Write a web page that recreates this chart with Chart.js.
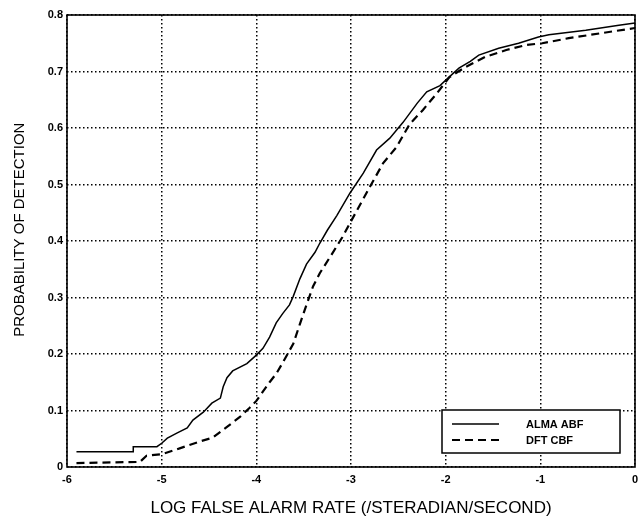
<!DOCTYPE html>
<html>
<head>
<meta charset="utf-8">
<script src="https://cdn.jsdelivr.net/npm/chart.js@4.4.0/dist/chart.umd.min.js"></script>
<style>
  html, body { margin: 0; padding: 0; background: #fff; }
  #wrap { width: 639px; height: 517px; }
</style>
</head>
<body>
<div id="wrap"><canvas id="rocChart" width="639" height="517"></canvas></div>
<script>
// ALMA ABF (solid)
const almaX = [-5.90,-5.30,-5.30,-5.05,-5.00,-4.94,-4.84,-4.73,-4.67,-4.56,-4.47,-4.38,-4.35,-4.31,-4.25,-4.10,-4.00,-3.93,-3.86,-3.79,-3.72,-3.65,-3.61,-3.54,-3.47,-3.38,-3.33,-3.25,-3.15,-3.01,-2.87,-2.73,-2.59,-2.45,-2.30,-2.20,-2.06,-1.99,-1.86,-1.74,-1.65,-1.44,-1.23,-1.02,-0.91,-0.52,-0.17,0.00];
const almaY = [0.027,0.027,0.036,0.036,0.042,0.051,0.060,0.069,0.083,0.097,0.113,0.122,0.142,0.158,0.170,0.183,0.198,0.210,0.230,0.255,0.272,0.287,0.302,0.333,0.359,0.380,0.396,0.419,0.445,0.485,0.520,0.561,0.582,0.610,0.644,0.664,0.675,0.686,0.706,0.718,0.729,0.741,0.750,0.761,0.765,0.773,0.782,0.786];

// DFT CBF (dashed)
const dftX = [-5.90,-5.23,-5.16,-4.99,-4.81,-4.60,-4.46,-4.31,-4.17,-4.07,-4.00,-3.86,-3.79,-3.72,-3.61,-3.54,-3.47,-3.40,-3.33,-3.22,-3.09,-3.01,-2.80,-2.66,-2.52,-2.38,-2.24,-2.09,-1.96,-1.79,-1.58,-1.36,-1.15,-0.98,-0.70,-0.35,0.00];
const dftY = [0.007,0.009,0.020,0.023,0.033,0.045,0.052,0.071,0.089,0.105,0.117,0.150,0.165,0.185,0.218,0.253,0.287,0.320,0.343,0.372,0.407,0.432,0.496,0.538,0.566,0.607,0.632,0.662,0.690,0.708,0.726,0.738,0.747,0.750,0.759,0.768,0.777];

const seriesNames = ["ALMA ABF", "DFT CBF"];
const xTicks = [-6,-5,-4,-3,-2,-1,0];
const yTicks = [0,0.1,0.2,0.3,0.4,0.5,0.6,0.7,0.8];
const yTitle = "PROBABILITY OF DETECTION";

const toPts = (xs, ys) => xs.map((x,i)=>({x:x, y:ys[i]}));

// box round the plot area + y title (sits a bit above centre in the original)
const frame = {
    id: "frame",
    afterDatasetsDraw(chart){
        const a = chart.chartArea, ctx = chart.ctx;
        ctx.save();
        ctx.strokeStyle = "#000";
        ctx.lineWidth = 1.6;
        ctx.strokeRect(a.left, a.top, a.right-a.left, a.bottom-a.top);
        ctx.translate(20, a.top + (a.bottom-a.top)*0.475);
        ctx.rotate(-Math.PI/2);
        ctx.fillStyle = "#000";
        ctx.font = "15px 'Liberation Sans', Arial, sans-serif";
        ctx.textAlign = "center";
        ctx.textBaseline = "middle";
        ctx.fillText(yTitle, 0, 0);
        ctx.restore();
    }
};

// legend box in the lower right corner
const boxLegend = {
    id: "boxLegend",
    afterDraw(chart){
        const a = chart.chartArea, ctx = chart.ctx;
        const w = 178, h = 43;
        const x0 = a.right - 15 - w, y0 = a.bottom - 14 - h;
        ctx.save();
        ctx.fillStyle = "#fff";
        ctx.fillRect(x0, y0, w, h);
        ctx.strokeStyle = "#000";
        ctx.lineWidth = 1.5;
        ctx.strokeRect(x0, y0, w, h);
        chart.data.datasets.forEach((ds,i)=>{
            const ly = y0 + 14 + i*16;
            ctx.beginPath();
            ctx.setLineDash(ds.borderDash || []);
            ctx.lineWidth = ds.borderWidth;
            ctx.moveTo(x0 + 10, ly);
            ctx.lineTo(x0 + 57, ly);
            ctx.stroke();
            ctx.setLineDash([]);
            ctx.fillStyle = "#000";
            ctx.font = "bold 11px 'Liberation Sans', Arial, sans-serif";
            ctx.textBaseline = "middle";
            ctx.fillText(seriesNames[i], x0 + 84, ly + 1);
        });
        ctx.restore();
    }
};

new Chart(document.getElementById("rocChart"), {
    type: "line",
    data: {
        datasets: [
            {label: seriesNames[0], data: toPts(almaX, almaY), borderColor: "#000", borderWidth: 1.5, pointRadius: 0, tension: 0},
            {label: seriesNames[1], data: toPts(dftX, dftY), borderColor: "#000", borderWidth: 2.2, borderDash: [8,5], pointRadius: 0, tension: 0}
        ]
    },
    options: {
        responsive: false,
        animation: false,
        layout: {padding: {top: 15, right: 4, left: 0, bottom: 0}},
        plugins: {legend: {display: false}, tooltip: {enabled: false}},
        scales: {
            x: {
                type: "linear", min: -6, max: 0,
                afterBuildTicks: s => { s.ticks = xTicks.map(v=>({value:v})); },
                afterFit: s => { s.height = 50; s.paddingLeft = 0; s.paddingRight = 0; },
                ticks: {color: "#000", padding: 6, font: {family: "'Liberation Sans', Arial", size: 11, weight: "bold"}},
                grid: {color: "#000", lineWidth: 1.5, drawTicks: false},
                border: {display: false, dash: [1.5,2.5]},
                title: {display: true, text: "LOG FALSE ALARM RATE (/STERADIAN/SECOND)", color: "#000",
                        font: {family: "'Liberation Sans', Arial", size: 17, lineHeight: 1}, padding: {top: 0, bottom: 0}}
            },
            y: {
                min: 0, max: 0.8,
                afterBuildTicks: s => { s.ticks = yTicks.map(v=>({value:v})); },
                afterFit: s => { s.width = 67; s.paddingTop = 0; s.paddingBottom = 0; },
                ticks: {color: "#000", padding: 4, callback: v => v === 0 ? "0" : v.toFixed(1),
                        font: {family: "'Liberation Sans', Arial", size: 11, weight: "bold"}},
                grid: {color: "#000", lineWidth: 1.5, drawTicks: false},
                border: {display: false, dash: [1.5,2.5]}
            }
        }
    },
    plugins: [frame, boxLegend]
});
</script>
</body>
</html>
